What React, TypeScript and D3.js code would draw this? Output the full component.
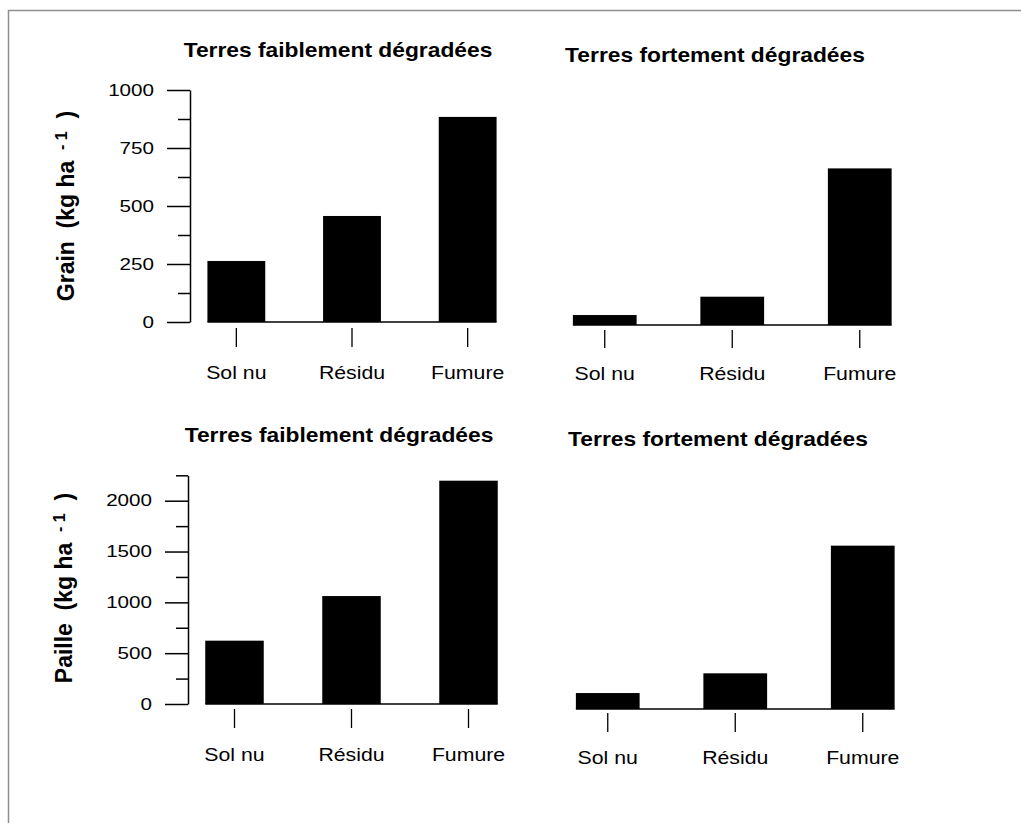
import { useEffect, useRef } from "react"
import * as d3 from "d3"

const categories = ["Sol nu", "Résidu", "Fumure"]

const grainFaible = [263, 457, 884]
const grainForte = [43, 122, 675]
const pailleFaible = [623, 1062, 2197]
const pailleForte = [157, 351, 1607]

const grainTicks = [0, 250, 500, 750, 1000]
const grainMinor = [125, 375, 625, 875]
const pailleTicks = [0, 500, 1000, 1500, 2000]
const pailleMinor = [250, 750, 1250, 1750, 2250]

const titleFaible = "Terres faiblement dégradées"
const titleForte = "Terres fortement dégradées"

const FONT = "'Liberation Sans', Arial, Helvetica, sans-serif"

interface Panel {
  title: string
  titleX: number
  titleY: number
  values: number[]
  yMax: number
  base: number
  top: number
  xRange: [number, number]
  tickOffset: number
  tickLen: number
  labelPad: number
  axisX?: number
  major?: number[]
  minor?: number[]
  yLabel?: string
  yLabelX?: number
  yLabelY?: number
}

const panels: Panel[] = [
  {
    title: titleFaible, titleX: 338, titleY: 57, values: grainFaible, yMax: 1000,
    base: 322, top: 90, xRange: [178.5, 525.5], tickOffset: 6, tickLen: 19, labelPad: 18.4,
    axisX: 190, major: grainTicks, minor: grainMinor, yLabel: "Grain", yLabelX: 74, yLabelY: 206,
  },
  {
    title: titleForte, titleX: 715, titleY: 62, values: grainForte, yMax: 1000,
    base: 325, top: 93, xRange: [541, 923.5], tickOffset: 5, tickLen: 18, labelPad: 18.4,
  },
  {
    title: titleFaible, titleX: 339, titleY: 442, values: pailleFaible, yMax: 2250,
    base: 704, top: 475.3, xRange: [176, 527], tickOffset: 5, tickLen: 19, labelPad: 19.4,
    axisX: 188, major: pailleTicks, minor: pailleMinor, yLabel: "Paille", yLabelX: 72, yLabelY: 588,
  },
  {
    title: titleForte, titleX: 718, titleY: 446, values: pailleForte, yMax: 2250,
    base: 709, top: 480.3, xRange: [544, 926.5], tickOffset: 4, tickLen: 19, labelPad: 18.4,
  },
]

export default function App() {
  const svgRef = useRef<SVGSVGElement>(null)

  useEffect(() => {
    if (!svgRef.current) return
    const svg = d3.select(svgRef.current)
    svg.selectAll("*").remove()

    svg.append("rect").attr("width", 1021).attr("height", 823).attr("fill", "#fff")
    // scanned page frame
    svg.append("rect")
      .attr("x", 8.5).attr("y", 10.5).attr("width", 1100).attr("height", 900)
      .attr("fill", "none").attr("stroke", "#8f8f8f").attr("stroke-width", 1.5)

    panels.forEach((p) => {
      const g = svg.append("g").attr("font-family", FONT)

      const y = d3.scaleLinear().domain([0, p.yMax]).range([p.base, p.top])
      const x = d3.scaleBand<string>().domain(categories).range(p.xRange)
        .paddingInner(0.5).paddingOuter(0.25)

      // title
      g.append("g")
        .attr("transform", `translate(${p.titleX},${p.titleY})`)
        .append("text")
        .attr("transform", "scale(1.14,1)")
        .attr("text-anchor", "middle")
        .attr("font-size", 20)
        .attr("font-weight", "bold")
        .text(p.title)

      // bars
      g.selectAll("rect.bar")
        .data(p.values)
        .join("rect")
        .attr("class", "bar")
        .attr("x", (_, i) => x(categories[i])!)
        .attr("width", x.bandwidth())
        .attr("y", (d) => y(d))
        .attr("height", (d) => y(0) - y(d))
        .attr("fill", "#000")

      // baseline between bars
      g.append("line")
        .attr("x1", x(categories[0])!)
        .attr("x2", x(categories[categories.length - 1])! + x.bandwidth())
        .attr("y1", y(0)).attr("y2", y(0))
        .attr("stroke", "#000").attr("stroke-width", 1.5)

      // x axis ticks + labels
      const xa = g.append("g")
        .attr("transform", `translate(0,${p.base + p.tickOffset})`)
        .call(d3.axisBottom(x).tickSize(p.tickLen).tickPadding(p.labelPad))
      xa.select(".domain").remove()
      xa.selectAll("line").attr("stroke", "#000").attr("stroke-width", 1.3)
      xa.selectAll("text")
        .attr("fill", "#000")
        .attr("font-family", FONT)
        .attr("font-size", 18.5)
        .attr("transform", "scale(1.15,1)")

      if (p.axisX !== undefined && p.major && p.minor) {
        const sx = 1.25
        const ya = g.append("g")
          .attr("transform", `translate(${p.axisX},0)`)
          .call(d3.axisLeft(y).tickValues(p.major).tickSize(23).tickSizeOuter(0).tickFormat(d3.format("d")))
        ya.select(".domain").attr("stroke", "#000").attr("stroke-width", 1.5)
        ya.selectAll("line").attr("stroke", "#000").attr("stroke-width", 1.5)
        ya.selectAll("text")
          .attr("fill", "#000")
          .attr("font-family", FONT)
          .attr("font-size", 16.5)
          .attr("x", -36 / sx)
          .attr("transform", `scale(${sx},1)`)

        const ym = g.append("g")
          .attr("transform", `translate(${p.axisX},0)`)
          .call(d3.axisLeft(y).tickValues(p.minor).tickSize(12).tickFormat(() => ""))
        ym.select(".domain").remove()
        ym.selectAll("line").attr("stroke", "#000").attr("stroke-width", 1.5)

        // y label with superscript
        const t = g.append("g")
          .attr("transform", `translate(${p.yLabelX},${p.yLabelY}) scale(1.07,1) rotate(-90)`)
          .append("text")
          .attr("text-anchor", "middle")
          .attr("font-size", 23)
          .attr("font-weight", "bold")
          .style("white-space", "pre")
        t.append("tspan").text(`${p.yLabel}  (kg ha `)
        t.append("tspan").attr("dy", -7).attr("font-size", 16).text(" - 1")
        t.append("tspan").attr("dy", 7).text("  )")
      }
    })
  }, [])

  return (
    <svg
      ref={svgRef}
      width={1021}
      height={823}
      style={{ position: "absolute", left: 0, top: 0, display: "block" }}
    />
  )
}
